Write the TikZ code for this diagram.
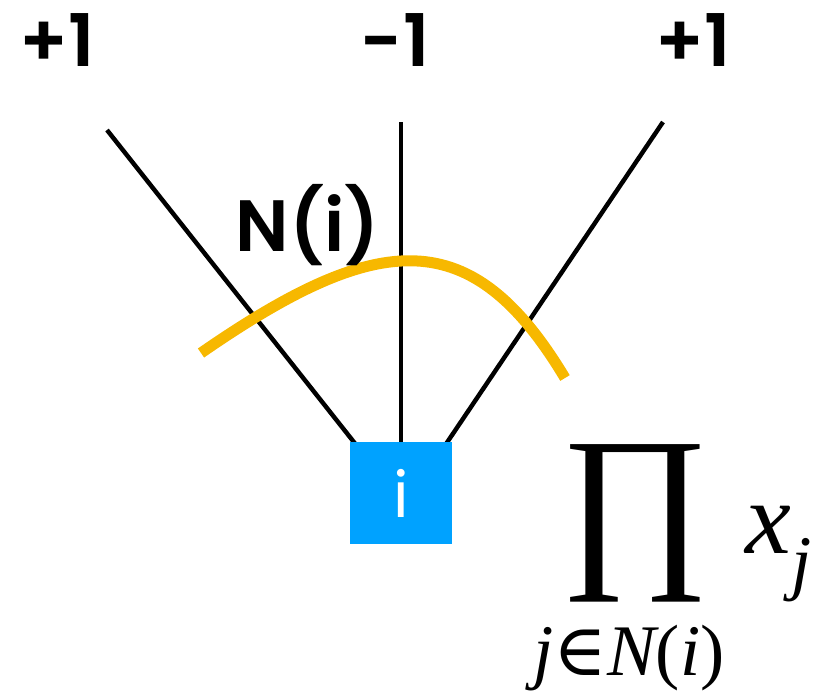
\documentclass[tikz,border=0pt]{standalone}
\usepackage{fontspec}
\setmainfont{Poppins}
\newfontfamily\labelfont{Poppins SemiBold}
\newfontfamily\mathserif{Liberation Serif}
\newfontfamily\symserif{DejaVu Serif}
\definecolor{nodeblue}{HTML}{00A2FF}
\definecolor{arcgold}{HTML}{F7B800}
\begin{document}
\begin{tikzpicture}[x=0.03cm, y=-0.03cm,
            edge/.style={line width=3.8pt, black},
            spin/.style={font=\labelfont\fontsize{62}{62}\selectfont, inner sep=0pt},
            factor/.style={rectangle, fill=nodeblue, minimum size=3.06cm, inner sep=0pt,
                text=white, font=\fontsize{54}{54}\selectfont}
            ]
            \useasboundingbox (0,0) rectangle (817,695);

            % labels of the three neighbours
            \node[spin] (sa) at (57,40) {+1};
            \node[spin] (sb) at (395,40) {-1};
            \node[spin] (sc) at (693,40) {+1};

            % ends of the edges
            \coordinate (ta) at (107,130);
            \coordinate (tb) at (401,122);
            \coordinate (tc) at (663,122);
            \coordinate (ba) at (357,446);
            \coordinate (bb) at (401,446);
            \coordinate (bc) at (446,444);

            \draw[edge] (ta)--(ba);
            \draw[edge] (tb)--(bb);
            \draw[edge] (tc)--(bc);

            \node[factor] (i) at (401,493) {i};

            % neighbourhood arc
            \coordinate (arcl) at (201,353);
            \coordinate (arcr) at (565,378);
            \draw[arcgold, line width=9.4pt] (arcl) .. controls (380,229) and (472,223) .. (arcr);
            \node[spin] (ni) at (308,225) {N(i)};

            % product formula
            \node[inner sep=0pt, font=\mathserif\fontsize{155}{155}\selectfont] (prod) at (635,523) {∏};
            \node[anchor=base west, inner sep=0pt, font=\mathserif\itshape\fontsize{88}{88}\selectfont] (xj) at (745,553) {x\raisebox{-0.32em}{\fontsize{62}{62}\selectfont j}};
            \node[anchor=base, inner sep=0pt, font=\mathserif\fontsize{62}{62}\selectfont] (sub) at (629,675) {\itshape j\upshape{\symserif ∈}\itshape N\upshape(\itshape i\upshape)};
            \end{tikzpicture}
\end{document}
